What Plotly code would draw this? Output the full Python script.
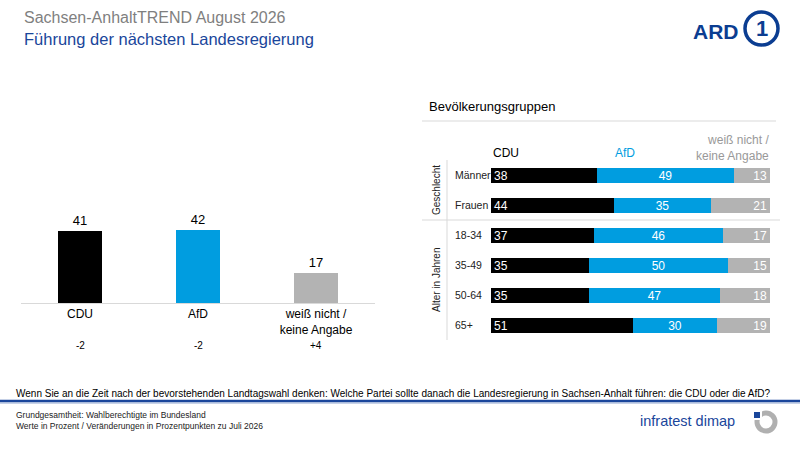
"""Sachsen-AnhaltTREND: Führung der nächsten Landesregierung."""

import plotly.graph_objects as go

# Gesamtergebnis
parteien = ["CDU", "AfD", "weiß nicht /<br>keine Angabe"]
anteile = [41, 42, 17]
veraenderung = ["-2", "-2", "+4"]

# Bevölkerungsgruppen
gruppen = ["Männer", "Frauen", "18-34", "35-49", "50-64", "65+"]
cdu = [38, 44, 37, 35, 35, 51]
afd = [49, 35, 46, 50, 47, 30]
weiss_nicht = [13, 21, 17, 15, 18, 19]

SCHWARZ = "#000000"
BLAU = "#009de0"
GRAU = "#b3b3b3"
DUNKELBLAU = "#1a469b"
FONT = "Liberation Sans, Arial, sans-serif"


def px(x):
    return x / 800


def py(y):
    return 1 - y / 450


fig = go.Figure()

# linkes Diagramm
fig.add_trace(go.Bar(x=parteien, y=anteile,
                     marker=dict(color=[SCHWARZ, BLAU, GRAU], line_width=0),
                     width=0.38, text=anteile, textposition="outside",
                     textfont=dict(size=13, color="#000000"),
                     cliponaxis=False, xaxis="x", yaxis="y",
                     hoverinfo="skip", showlegend=False))

# rechtes Diagramm
for name, werte, farbe, anker in [("CDU", cdu, SCHWARZ, "start"),
                                  ("AfD", afd, BLAU, "middle"),
                                  ("weiß nicht", weiss_nicht, GRAU, "end")]:
    fig.add_trace(go.Bar(y=gruppen, x=werte, orientation="h", name=name,
                         marker=dict(color=farbe, line_width=0), width=0.5,
                         text=werte, textposition="inside",
                         insidetextanchor=anker, textangle=0,
                         constraintext="none",
                         textfont=dict(size=12, color="white"),
                         xaxis="x2", yaxis="y2", hoverinfo="skip",
                         showlegend=False))

ann = []
for p, v in zip(parteien, veraenderung):
    ann.append(dict(x=p, xref="x", y=py(345), yref="paper", text=v,
                    font=dict(size=10, color="#000000")))

for g in gruppen:
    ann.append(dict(x=px(453), xref="paper", y=g, yref="y2", text=g,
                    xanchor="left", font=dict(size=10.5, color="#222222")))

ann += [
    dict(x=px(436), y=0.5, yref="y2", text="Geschlecht",
         textangle=-90, font=dict(size=10, color="#222222")),
    dict(x=px(436), y=3.5, yref="y2", text="Alter in Jahren",
         textangle=-90, font=dict(size=10, color="#222222")),
    dict(x=px(491), y=py(153), xanchor="left", text="CDU",
         font=dict(size=12, color="#000000")),
    dict(x=px(625), y=py(153), text="AfD", font=dict(size=12, color=BLAU)),
    dict(x=px(771), y=py(148), xanchor="right", align="right",
         text="weiß nicht /<br>keine Angabe",
         font=dict(size=12, color="#999999")),
    dict(x=px(427), y=py(107), xanchor="left", text="Bevölkerungsgruppen",
         font=dict(size=13, color="#000000")),
    dict(x=px(22), y=py(17), xanchor="left", text="Sachsen-AnhaltTREND August 2026",
         font=dict(size=16, color="#7f7f7f")),
    dict(x=px(22), y=py(39), xanchor="left", text="Führung der nächsten Landesregierung",
         font=dict(size=16.5, color=DUNKELBLAU)),
    dict(x=px(14), y=py(393), xanchor="left",
         text="Wenn Sie an die Zeit nach der bevorstehenden Landtagswahl denken: "
              "Welche Partei sollte danach die Landesregierung in Sachsen-Anhalt "
              "führen: die CDU oder die AfD?",
         font=dict(size=10, color="#000000")),
    dict(x=px(14), y=py(420), xanchor="left", align="left",
         text="Grundgesamtheit: Wahlberechtigte im Bundesland<br>"
              "Werte in Prozent / Veränderungen in Prozentpunkten zu Juli 2026",
         font=dict(size=8.5, color="#222222")),
    dict(x=px(737), y=py(421), xanchor="right", text="infratest dimap",
         font=dict(size=14.5, color=DUNKELBLAU)),
    dict(x=px(741), y=py(31), xanchor="right", text="<b>ARD</b>",
         font=dict(size=21, color="#0b3d91")),
    dict(x=px(762), y=py(29), text="<b>1</b>",
         font=dict(size=22, color="#0b3d91")),
]
for a in ann:
    a.setdefault("showarrow", False)
    a.setdefault("xref", "paper")
    a.setdefault("yref", "paper")
    a.setdefault("yanchor", "middle")
    a.setdefault("xanchor", "center")

shapes = [
    dict(type="line", xref="paper", yref="paper", x0=px(422), x1=px(776),
         y0=py(121), y1=py(121), line=dict(color="#d9d9d9", width=1)),
    dict(type="line", xref="paper", yref="y2", x0=px(422), x1=px(780),
         y0=1.5, y1=1.5, line=dict(color="#d9d9d9", width=1)),
    dict(type="line", xref="paper", yref="y2", x0=px(447), x1=px(447),
         y0=-0.5, y1=5.5, line=dict(color="#d9d9d9", width=1)),
    dict(type="line", xref="paper", yref="paper", x0=0, x1=1,
         y0=py(401), y1=py(401), line=dict(color=DUNKELBLAU, width=2.5)),
    dict(type="line", xref="paper", yref="paper", x0=0, x1=1,
         y0=py(403), y1=py(403), line=dict(color="#8fa6d0", width=1)),
    # ARD-Kreis
    dict(type="circle", xref="paper", yref="paper", x0=px(745), x1=px(778),
         y0=py(45), y1=py(12), line=dict(color="#0b3d91", width=3.5)),
    # infratest-dimap-Zeichen
    dict(type="circle", xref="paper", yref="paper", x0=px(757), x1=px(775),
         y0=py(431), y1=py(413), line=dict(color="#b0b0b0", width=5)),
    dict(type="rect", xref="paper", yref="paper", x0=px(751), x1=px(762),
         y0=py(420), y1=py(409), fillcolor="white", line_width=0),
    dict(type="rect", xref="paper", yref="paper", x0=px(754), x1=px(760),
         y0=py(418), y1=py(412), fillcolor=DUNKELBLAU, line_width=0),
]

fig.update_layout(
    width=800, height=450,
    margin=dict(l=0, r=0, t=0, b=0),
    paper_bgcolor="white", plot_bgcolor="white",
    font=dict(family=FONT),
    barmode="stack", bargap=0,
    xaxis=dict(domain=[px(21), px(375)], showline=True, linecolor="#d9d9d9",
               linewidth=1, ticks="", showgrid=False, zeroline=False,
               tickfont=dict(size=12, color="#000000"), fixedrange=True),
    yaxis=dict(domain=[py(303), py(198)], range=[0, 60], visible=False,
               fixedrange=True),
    xaxis2=dict(domain=[px(491), px(770)], range=[0, 100], visible=False,
                anchor="y2", fixedrange=True),
    yaxis2=dict(domain=[py(340), py(160)], range=[5.5, -0.5],
                categoryorder="array", categoryarray=gruppen,
                visible=False, anchor="x2", fixedrange=True),
    annotations=ann,
    shapes=shapes,
)

fig.write_html("out.html", config={"displayModeBar": False},
               post_script="document.body.style.margin = '0';")
